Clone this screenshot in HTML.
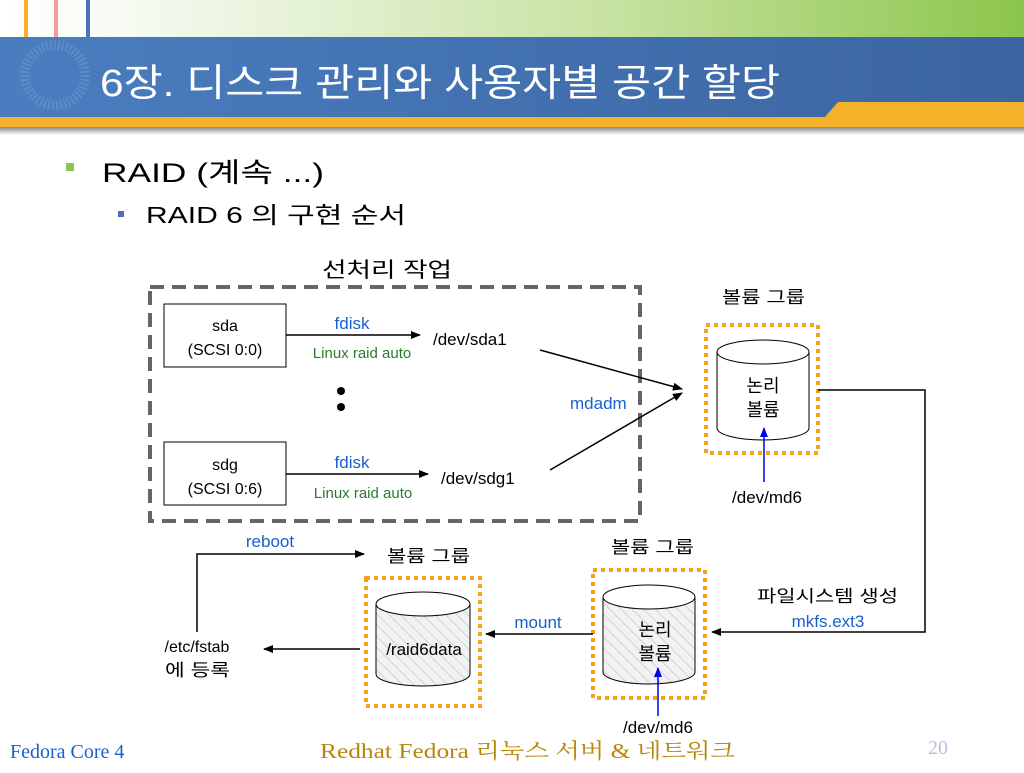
<!DOCTYPE html>
<html><head><meta charset="utf-8"><style>
body{margin:0;width:1024px;height:768px;overflow:hidden;background:#fff;font-family:"Liberation Sans","Noto Sans CJK KR",sans-serif}
svg text{font-family:"Liberation Sans","Noto Sans CJK KR",sans-serif}
</style></head><body>
<svg width="1024" height="768" viewBox="0 0 1024 768" xmlns="http://www.w3.org/2000/svg">
<defs>
<linearGradient id="g1" x1="0" x2="1"><stop offset="0" stop-color="#fff"/><stop offset="0.15" stop-color="#f4f9ee"/><stop offset="0.6" stop-color="#c6e2a0"/><stop offset="1" stop-color="#8cc64c"/></linearGradient>
<linearGradient id="g2" x1="0" x2="1"><stop offset="0" stop-color="#4a7dc0"/><stop offset="1" stop-color="#3b65a0"/></linearGradient>
<linearGradient id="sh" x1="0" y1="0" x2="0" y2="1"><stop offset="0" stop-color="#888"/><stop offset="1" stop-color="#fff"/></linearGradient>
<pattern id="hat" width="8" height="8" patternUnits="userSpaceOnUse" patternTransform="rotate(-45)"><rect width="8" height="8" fill="#f2f2f2"/><line x1="0" y1="0" x2="0" y2="8" stroke="#c8c8c8" stroke-width="1.5"/></pattern>
<marker id="a" markerWidth="10" markerHeight="8" refX="9" refY="4" orient="auto" markerUnits="userSpaceOnUse"><path d="M0,0 L10,4 L0,8 z" fill="#000"/></marker>
<marker id="b" markerWidth="10" markerHeight="8" refX="9" refY="4" orient="auto" markerUnits="userSpaceOnUse"><path d="M0,0 L10,4 L0,8 z" fill="#0000ee"/></marker>
</defs>
<rect x="0" y="0" width="1024" height="37" fill="url(#g1)"/>
<rect x="24" y="0" width="4" height="37" fill="#f5b12a"/>
<rect x="54" y="0" width="4" height="37" fill="#f29a9a"/>
<rect x="86" y="0" width="4" height="37" fill="#4a72b8"/>
<rect x="0" y="37" width="1024" height="80" fill="url(#g2)"/>
<rect x="0" y="117" width="1024" height="10" fill="#f5b12a"/>
<path d="M825,117 L838,102 L1024,102 L1024,117 z" fill="#f5b12a"/>
<rect x="0" y="127" width="1024" height="8" fill="url(#sh)"/>
<circle cx="55" cy="75" r="30" fill="none" stroke="#6f95cc" stroke-width="10" stroke-dasharray="2 2" opacity="0.6"/>
<text x="100" y="96" font-size="38" fill="#fff" textLength="680" lengthAdjust="spacingAndGlyphs">6장. 디스크 관리와 사용자별 공간 할당</text>
<rect x="66" y="163" width="8" height="8" fill="#8cc64c"/>
<text x="102" y="182" font-size="27" fill="#000" textLength="222" lengthAdjust="spacingAndGlyphs">RAID (계속 ...)</text>
<rect x="118" y="211" width="6" height="6" fill="#4a72b8"/>
<text x="146" y="223" font-size="23" fill="#000" textLength="260" lengthAdjust="spacingAndGlyphs">RAID 6 의 구현 순서</text>
<text x="322" y="277" font-size="21" fill="#000" textLength="130" lengthAdjust="spacingAndGlyphs">선처리 작업</text>
<rect x="150" y="287" width="490" height="234" fill="none" stroke="#666" stroke-width="4" stroke-dasharray="14 8"/>
<rect x="164" y="304" width="122" height="63" fill="#fff" stroke="#000"/>
<text x="225" y="331" font-size="16" text-anchor="middle">sda</text>
<text x="225" y="355" font-size="16" text-anchor="middle">(SCSI 0:0)</text>
<rect x="164" y="442" width="122" height="63" fill="#fff" stroke="#000"/>
<text x="225" y="470" font-size="16" text-anchor="middle">sdg</text>
<text x="225" y="494" font-size="16" text-anchor="middle">(SCSI 0:6)</text>
<line x1="286" y1="335" x2="420" y2="335" stroke="#000" stroke-width="1.5" marker-end="url(#a)"/>
<line x1="286" y1="474" x2="428" y2="474" stroke="#000" stroke-width="1.5" marker-end="url(#a)"/>
<text x="352" y="329" font-size="17" fill="#1a5fd0" text-anchor="middle">fdisk</text>
<text x="362" y="358" font-size="15" fill="#2a7a2a" text-anchor="middle">Linux raid auto</text>
<text x="352" y="468" font-size="17" fill="#1a5fd0" text-anchor="middle">fdisk</text>
<text x="363" y="498" font-size="15" fill="#2a7a2a" text-anchor="middle">Linux raid auto</text>
<circle cx="341" cy="391" r="4"/><circle cx="341" cy="407" r="4"/>
<text x="433" y="345" font-size="17">/dev/sda1</text>
<text x="441" y="484" font-size="17">/dev/sdg1</text>
<text x="570" y="409" font-size="17" fill="#1a5fd0">mdadm</text>
<line x1="540" y1="350" x2="682" y2="389" stroke="#000" stroke-width="1.5" marker-end="url(#a)"/>
<line x1="550" y1="470" x2="682" y2="393" stroke="#000" stroke-width="1.5" marker-end="url(#a)"/>
<text x="722" y="303" font-size="17" textLength="83" lengthAdjust="spacingAndGlyphs">볼륨 그룹</text>
<rect x="706" y="325" width="112" height="128" fill="none" stroke="#f5a11c" stroke-width="4" stroke-dasharray="4 4"/>
<path d="M717,352 L717,428 A46,12 0 0 0 809,428 L809,352" fill="#fff" stroke="#000"/>
<ellipse cx="763" cy="352" rx="46" ry="12" fill="#fff" stroke="#000"/>
<text x="763" y="392" font-size="18" text-anchor="middle">논리</text>
<text x="763" y="416" font-size="18" text-anchor="middle">볼륨</text>
<line x1="764" y1="482" x2="764" y2="428" stroke="#0000ee" stroke-width="1.5" marker-end="url(#b)"/>
<text x="767" y="503" font-size="17" text-anchor="middle">/dev/md6</text>
<polyline points="818,390 925,390 925,632 712,632" fill="none" stroke="#000" stroke-width="1.5" marker-end="url(#a)"/>
<text x="757" y="602" font-size="17" textLength="141" lengthAdjust="spacingAndGlyphs">파일시스템 생성</text>
<text x="828" y="627" font-size="17" fill="#1a5fd0" text-anchor="middle">mkfs.ext3</text>
<text x="611" y="553" font-size="17" textLength="83" lengthAdjust="spacingAndGlyphs">볼륨 그룹</text>
<rect x="593" y="570" width="112" height="128" fill="none" stroke="#f5a11c" stroke-width="4" stroke-dasharray="4 4"/>
<path d="M603,597 L603,672 A46,12 0 0 0 695,672 L695,597" fill="url(#hat)" stroke="#000"/>
<ellipse cx="649" cy="597" rx="46" ry="12" fill="#fff" stroke="#000"/>
<text x="655" y="636" font-size="18" text-anchor="middle">논리</text>
<text x="655" y="660" font-size="18" text-anchor="middle">볼륨</text>
<line x1="658" y1="716" x2="658" y2="668" stroke="#0000ee" stroke-width="1.5" marker-end="url(#b)"/>
<text x="658" y="733" font-size="17" text-anchor="middle">/dev/md6</text>
<line x1="593" y1="634" x2="486" y2="634" stroke="#000" stroke-width="1.5" marker-end="url(#a)"/>
<text x="538" y="628" font-size="17" fill="#1a5fd0" text-anchor="middle">mount</text>
<text x="387" y="562" font-size="17" textLength="83" lengthAdjust="spacingAndGlyphs">볼륨 그룹</text>
<rect x="366" y="578" width="114" height="128" fill="none" stroke="#f5a11c" stroke-width="4" stroke-dasharray="4 4"/>
<path d="M376,604 L376,674 A47,12 0 0 0 470,674 L470,604" fill="url(#hat)" stroke="#000"/>
<ellipse cx="423" cy="604" rx="47" ry="12" fill="#fff" stroke="#000"/>
<text x="424" y="655" font-size="17" text-anchor="middle">/raid6data</text>
<line x1="360" y1="649" x2="264" y2="649" stroke="#000" stroke-width="1.5" marker-end="url(#a)"/>
<text x="197" y="652" font-size="16" text-anchor="middle">/etc/fstab</text>
<text x="165" y="676" font-size="17" textLength="65" lengthAdjust="spacingAndGlyphs">에 등록</text>
<polyline points="197,632 197,554 364,554" fill="none" stroke="#000" stroke-width="1.5" marker-end="url(#a)"/>
<text x="270" y="547" font-size="17" fill="#1a5fd0" text-anchor="middle">reboot</text>
<text x="10" y="758" font-size="20" fill="#1a5fd0" style="font-family:'Liberation Serif','Noto Serif CJK SC',serif">Fedora Core 4</text>
<text x="320" y="758" font-size="21" fill="#b8860b" textLength="415" lengthAdjust="spacingAndGlyphs" style="font-family:'Liberation Serif','Noto Serif CJK SC',serif">Redhat Fedora 리눅스 서버 &amp; 네트워크</text>
<text x="928" y="754" font-size="20" fill="#c8b8e0" style="font-family:'Liberation Serif',serif">20</text>
</svg>
</body></html>
